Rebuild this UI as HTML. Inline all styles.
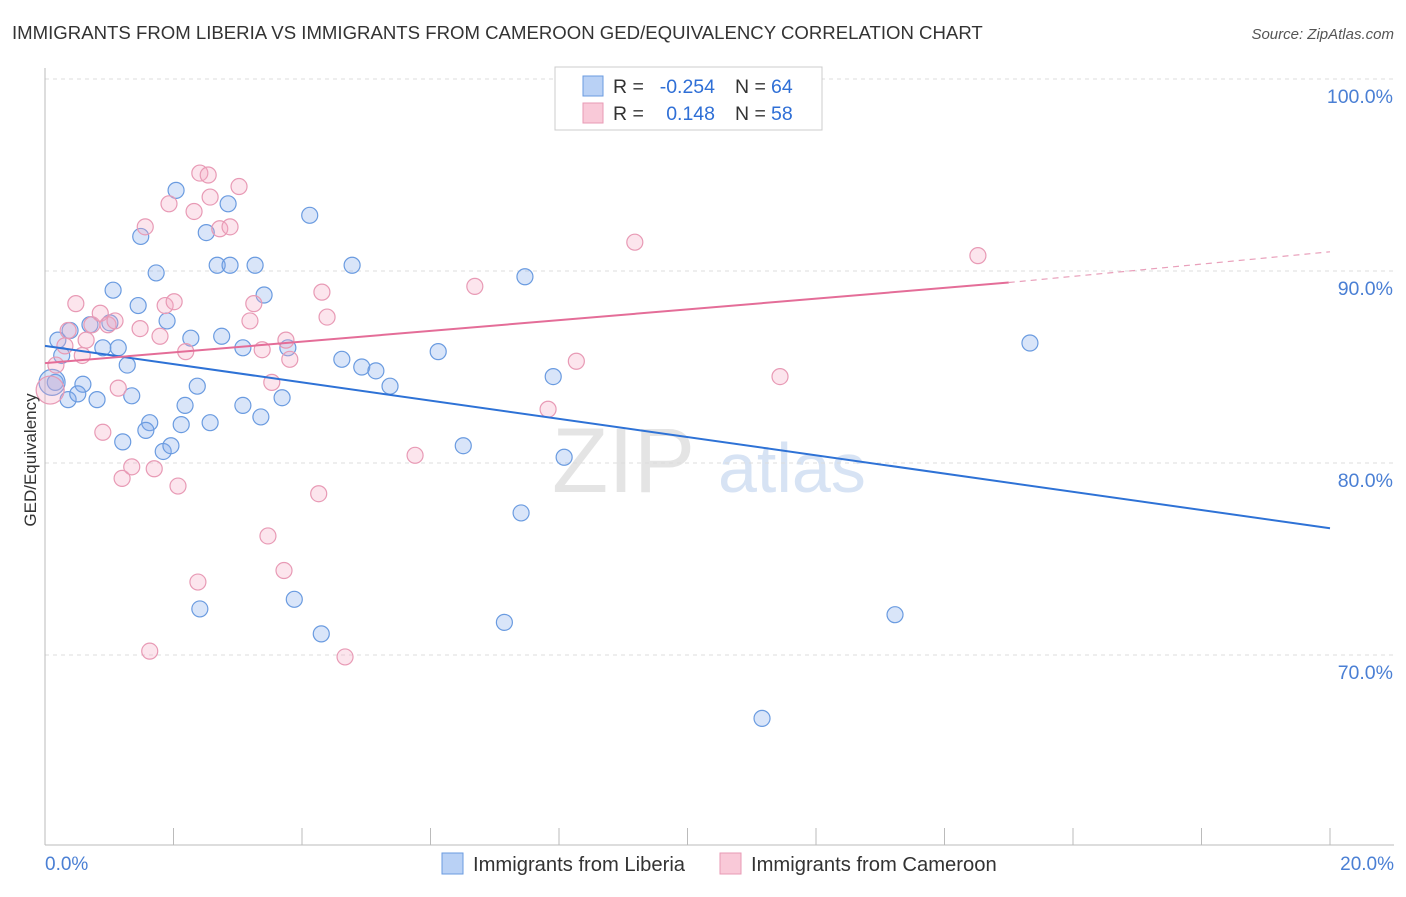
<!DOCTYPE html>
<html><head><meta charset="utf-8"><style>
body{margin:0;background:#fff;font-family:"Liberation Sans",sans-serif}
svg text{font-family:"Liberation Sans",sans-serif}
</style></head><body>
<svg width="1406" height="892" xmlns="http://www.w3.org/2000/svg">
<text x="12" y="39" font-size="18.6" fill="#333">IMMIGRANTS FROM LIBERIA VS IMMIGRANTS FROM CAMEROON GED/EQUIVALENCY CORRELATION CHART</text>
<text x="1394" y="39" font-size="15" fill="#555" text-anchor="end" font-style="italic">Source: ZipAtlas.com</text>
<g>
<text x="552" y="492" font-size="92" fill="#e4e4e4" font-family="Liberation Serif">ZIP</text>
<text x="718" y="492" font-size="70" fill="#d7e3f4">atlas</text>
</g>
<g id="grid"></g><g id="axes"></g><g id="pts"></g><g id="trend"></g>
<text x="36" y="460" font-size="17" fill="#333" text-anchor="middle" transform="rotate(-90 36 460)">GED/Equivalency</text>
<g>
<rect x="555" y="67" width="267" height="63" fill="#fff" stroke="#ccc"/>
<rect x="583" y="76" width="20" height="20" fill="#b9d1f5" stroke="#6a9be0"/>
<rect x="583" y="103" width="20" height="20" fill="#f9c9d8" stroke="#e89ab5"/>
<text x="613" y="93" font-size="19.5" fill="#333">R =</text><text x="715" y="93" font-size="19.5" fill="#2f6fd6" text-anchor="end">-0.254</text>
<text x="735" y="93" font-size="19.5" fill="#333">N =</text><text x="771" y="93" font-size="19.5" fill="#2f6fd6">64</text>
<text x="613" y="120" font-size="19.5" fill="#333">R =</text><text x="715" y="120" font-size="19.5" fill="#2f6fd6" text-anchor="end">0.148</text>
<text x="735" y="120" font-size="19.5" fill="#333">N =</text><text x="771" y="120" font-size="19.5" fill="#2f6fd6">58</text>
</g>
<g>
<rect x="442" y="853" width="21" height="21" fill="#b9d1f5" stroke="#6a9be0"/>
<text x="473" y="871" font-size="20.2" fill="#333">Immigrants from Liberia</text>
<rect x="720" y="853" width="21" height="21" fill="#f9c9d8" stroke="#e89ab5"/>
<text x="751" y="871" font-size="20.2" fill="#333">Immigrants from Cameroon</text>
</g>
</svg>
<script>
const yTicks=[100,90,80,70];
const yTickLabels=["100.0%","90.0%","80.0%","70.0%"];
const xTicks=[0,2,4,6,8,10,12,14,16,18,20];
const xEndLabels=["0.0%","20.0%"];
const libX=[0.20,0.39,0.26,0.16,0.36,0.59,0.51,0.81,0.70,0.90,1.06,1.14,1.28,1.21,1.35,1.45,1.49,1.63,1.57,1.73,1.90,1.84,1.96,2.04,2.12,2.18,2.27,2.37,2.41,2.51,2.57,2.68,2.75,2.85,2.88,3.08,3.08,3.27,3.36,3.41,3.69,3.78,3.88,4.12,4.30,4.62,4.78,4.93,5.15,5.37,6.12,6.51,7.15,7.41,7.47,7.91,8.08,9.38,11.16,13.23,15.33,0.11,1.01];
const libY=[86.4,86.9,85.6,84.2,83.3,84.1,83.6,83.3,87.2,86.0,89.0,86.0,85.1,81.1,83.5,88.2,91.8,82.1,81.7,89.9,87.4,80.6,80.9,94.2,82.0,83.0,86.5,84.0,72.4,92.0,82.1,90.3,86.6,93.5,90.3,86.0,83.0,90.3,82.4,88.75,83.4,86.0,72.9,92.9,71.1,85.4,90.3,85.0,84.8,84.0,85.8,80.9,71.7,77.4,89.7,84.5,80.3,100.0,66.7,72.1,86.25,84.2,87.3];
const camX=[0.08,0.17,0.31,0.36,0.48,0.58,0.64,0.73,0.86,0.90,0.98,1.09,1.14,1.20,1.35,1.48,1.56,1.70,1.79,1.87,1.93,2.01,2.07,2.19,2.32,2.38,2.41,2.54,2.57,2.72,2.88,3.02,3.19,3.25,3.38,3.47,3.53,3.72,3.75,3.81,4.26,4.31,4.39,4.67,5.76,6.69,7.83,8.27,9.18,11.44,14.52,11.6,1.63];
const camY=[83.8,85.1,86.1,86.9,88.3,85.6,86.4,87.2,87.8,81.6,87.2,87.4,83.9,79.2,79.8,87.0,92.3,79.7,86.6,88.2,93.5,88.4,78.8,85.8,93.1,73.8,95.1,95.0,93.85,92.2,92.3,94.4,87.4,88.3,85.9,76.2,84.2,74.4,86.4,85.4,78.4,88.9,87.6,69.9,80.4,89.2,82.8,85.3,91.5,84.5,90.8,99.95,70.2];
const libTrend=[[0,86.1],[20,76.6]];
const camTrendSolid=[[0,85.2],[15.0,89.4]];
const camTrendDash=[[15.0,89.4],[20,91.0]];
const bigLib=[61], bigCam=[0];
const NS='http://www.w3.org/2000/svg';
const X=v=>45+v/20*1285, Y=v=>79+(100-v)*19.2;
function mk(tag,at,par){const e=document.createElementNS(NS,tag);for(const k in at)e.setAttribute(k,at[k]);document.getElementById(par).appendChild(e);return e;}
yTicks.forEach((t,i)=>{
 const l=mk('line',{x1:45,x2:1394,y1:Y(t),y2:Y(t),stroke:'#ddd','stroke-dasharray':'4,4'},'grid');
 
 
 const tx=mk('text',{x:1393,y:Y(t)+24,'font-size':19.5,fill:'#4a7fd4','text-anchor':'end'},'axes');tx.textContent=yTickLabels[i];
 
 
});
const ax=mk('line',{x1:45,x2:1394,y1:845,y2:845,stroke:'#bbb'},'axes');


const ay=mk('line',{x1:45,x2:45,y1:68,y2:845,stroke:'#bbb'},'axes');


xTicks.forEach(t=>{const l=mk('line',{x1:X(t),x2:X(t),y1:828,y2:845,stroke:'#bbb'},'axes');
 
 });
[[0,'start',45],[20,'end',1394]].forEach((d,i)=>{const t=mk('text',{x:d[2],y:870,'font-size':19,fill:'#4a7fd4','text-anchor':d[1]},'axes');t.textContent=xEndLabels[i];
 
 });
libX.forEach((v,i)=>{const c=mk('circle',{cx:X(v),cy:Y(libY[i]),r:bigLib.includes(i)?13:8,fill:'rgba(130,170,235,0.3)',stroke:'#6a9be0','stroke-width':1.2},'pts');
 
 });
camX.forEach((v,i)=>{const c=mk('circle',{cx:X(v),cy:Y(camY[i]),r:bigCam.includes(i)?14:8,fill:'rgba(245,170,195,0.3)',stroke:'#e89ab5','stroke-width':1.2},'pts');
 
 });
const t1=mk('line',{x1:X(libTrend[0][0]),y1:Y(libTrend[0][1]),x2:X(libTrend[1][0]),y2:Y(libTrend[1][1]),stroke:'#2e72d6','stroke-width':2},'trend');


const t2=mk('line',{x1:X(camTrendSolid[0][0]),y1:Y(camTrendSolid[0][1]),x2:X(camTrendSolid[1][0]),y2:Y(camTrendSolid[1][1]),stroke:'#e46d98','stroke-width':2},'trend');


const t3=mk('line',{x1:X(camTrendDash[0][0]),y1:Y(camTrendDash[0][1]),x2:X(camTrendDash[1][0]),y2:Y(camTrendDash[1][1]),stroke:'#e9a0bb','stroke-width':1.2,'stroke-dasharray':'6,5'},'trend');


</script>
</body></html>
